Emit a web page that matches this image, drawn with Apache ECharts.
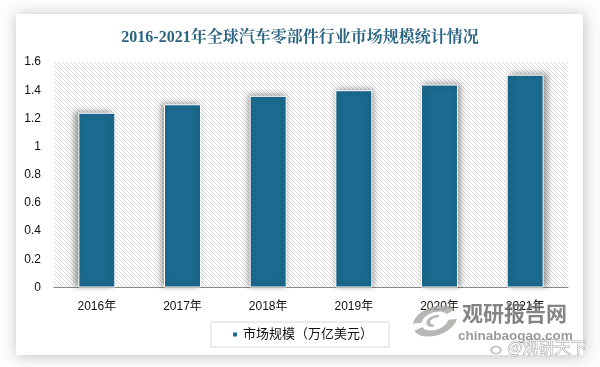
<!DOCTYPE html>
<html><head><meta charset="utf-8">
<script src="https://cdn.jsdelivr.net/npm/echarts@6/dist/echarts.min.js"></script>
<style>
html,body{margin:0;padding:0;background:#fdfdfd;width:600px;height:367px;overflow:hidden}
#card{position:absolute;left:16px;top:14px;width:567px;height:341px;background:#fff;box-shadow:1px 1px 14px rgba(0,0,0,.25)}
#c{position:absolute;left:0;top:0;width:600px;height:367px}
</style></head><body>
<div id="card"></div><div id="c"></div>
<script>
const categories=['2016年','2017年','2018年','2019年','2020年','2021年'];
const marketSize=[1.24,1.30,1.36,1.40,1.44,1.51];
const seriesName='市场规模（万亿美元）';
const titleText='2016-2021年全球汽车零部件行业市场规模统计情况';
const yTicks=['0','0.2','0.4','0.6','0.8','1','1.2','1.4','1.6'];

const p=document.createElement('canvas');p.width=4;p.height=4;
const g=p.getContext('2d');g.fillStyle='#fff';g.fillRect(0,0,4,4);
g.strokeStyle='#d6d6d6';g.lineWidth=0.9;
g.beginPath();g.moveTo(-1,-1);g.lineTo(5,5);g.moveTo(-3,1);g.lineTo(1,5);g.moveTo(3,-1);g.lineTo(5,1);g.stroke();

const chart=echarts.init(document.getElementById('c'),null,{renderer:'canvas'});
const font='"Liberation Sans","Noto Sans CJK SC",sans-serif';
const logoGrey='rgba(165,165,160,.8)';
chart.setOption({
 backgroundColor:'transparent',animation:false,
 title:{text:titleText,left:'center',top:25,textStyle:{fontFamily:'"Liberation Serif","Noto Serif CJK SC","Noto Sans CJK SC",serif',fontSize:16,fontWeight:'bold',color:'#2a6482'}},
 grid:{left:54,top:62,width:514,height:225.5,show:true,borderWidth:0,backgroundColor:{image:p,repeat:'repeat'}},
 legend:{data:[seriesName],left:211,top:322,padding:[6,16,6,20],itemWidth:6,itemHeight:6,icon:'rect',borderColor:'#d9d9d9',borderWidth:1,borderRadius:0,backgroundColor:'#fff',textStyle:{fontFamily:font,fontSize:13,color:'#111'}},
 xAxis:{type:'category',data:categories,axisTick:{show:false},axisLine:{lineStyle:{color:'#8a8a8a',width:1}},axisLabel:{margin:13,fontFamily:font,fontSize:12,color:'#111'}},
 yAxis:{type:'value',min:0,max:1.6,interval:0.2,splitLine:{show:false},axisLine:{show:false},axisTick:{show:false},axisLabel:{margin:13,fontFamily:font,fontSize:12,color:'#111',formatter:v=>yTicks[Math.round(v/0.2)]}},
 series:[{name:seriesName,type:'bar',barWidth:37,
  data:marketSize.map((v,i)=>({value:v,itemStyle:{shadowOffsetX:(i-2.5)*1.4}})),
  itemStyle:{color:'#1b6a8f',borderColor:'#fff',borderWidth:1,shadowColor:'rgba(0,0,0,.38)',shadowBlur:6,shadowOffsetY:-1}}],
 graphic:[
  {type:'text',left:462,top:303,z:50,style:{text:'观研报告网',fontFamily:'"Noto Sans CJK SC"',fontWeight:'bold',fontSize:21,fill:'rgba(110,110,110,.85)'}},
  {type:'text',left:458,top:330,z:50,style:{text:'chinabaogao.com',fontFamily:font,fontWeight:'bold',fontSize:13.5,fill:'rgba(130,130,130,.8)'}},
  {type:'text',left:507,top:339,z:51,style:{text:'@观研天下',fontFamily:'"Noto Sans CJK SC"',fontSize:16,fill:'rgba(255,255,255,.8)',stroke:'rgba(130,130,130,.8)',lineWidth:0.8}},
  {type:'sector',z:49,x:435,y:321,scaleY:0.62,rotation:0.35,shape:{cx:0,cy:0,r:23,r0:14,startAngle:0.4,endAngle:3.0},style:{fill:logoGrey}},
  {type:'sector',z:49,x:435,y:321,scaleY:0.62,rotation:0.35,shape:{cx:0,cy:0,r:23,r0:14,startAngle:3.5,endAngle:6.0},style:{fill:logoGrey}},
  {type:'sector',z:49,x:435,y:321,scaleY:0.62,rotation:0.35,shape:{cx:0,cy:0,r:9,r0:5,startAngle:2.0,endAngle:5.5},style:{fill:logoGrey}},
  {type:'ring',z:49,x:496,y:350,scaleY:0.75,shape:{cx:0,cy:0,r:6,r0:3.5},style:{fill:'rgba(190,190,190,.8)'}}
 ]
});
</script></body></html>
